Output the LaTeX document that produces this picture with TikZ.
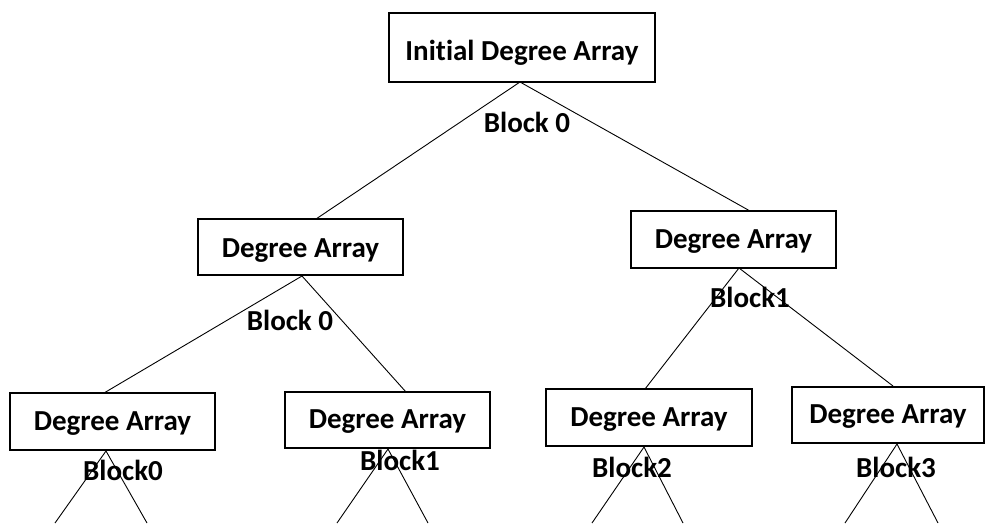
\documentclass[tikz,border=0pt]{standalone}
\usepackage{fontspec}
\setmainfont[Ligatures=CommonOff]{Carlito}
\begin{document}
\begin{tikzpicture}[x=1pt,y=-1pt,
  box/.style={draw, line width=1.3pt, inner sep=0pt, text height=17pt, text depth=0pt,
    font=\fontsize{29}{34}\selectfont\bfseries},
  lbl/.style={inner sep=0pt, anchor=base, font=\fontsize{29}{34}\selectfont\bfseries},
  edge/.style={draw, line width=0.9pt}]
\useasboundingbox (0,0) rectangle (987,523);

% boxes
\node[box, minimum width=266pt, minimum height=69pt, text height=25pt] (root) at (522,47.5) {Initial Degree Array};
\node[box, minimum width=205pt, minimum height=56pt, text height=20pt] (ml) at (300.5,247) {Degree Array};
\node[box, minimum width=205pt, minimum height=57pt] (mr) at (733.5,239.5) {Degree Array};
\node[box, minimum width=205pt, minimum height=57pt] (b1) at (112.5,421.5) {Degree Array};
\node[box, minimum width=205pt, minimum height=56pt] (b2) at (387.5,420) {Degree Array};
\node[box, minimum width=206pt, minimum height=57pt] (b3) at (649,417.5) {Degree Array};
\node[box, minimum width=192pt, minimum height=56pt] (b4) at (888,415) {Degree Array};

% split points and free ends of the branches
\coordinate (r0) at (520,82);
\coordinate (rl) at (316,219);
\coordinate (rr) at (750,211);
\coordinate (m0) at (302,276);
\coordinate (ml1) at (104,393);
\coordinate (ml2) at (406,392);
\coordinate (n0) at (739,268);
\coordinate (mr1) at (645,389);
\coordinate (mr2) at (893,386);
\coordinate (p1) at (106,451);
\coordinate (p1l) at (55,523);
\coordinate (p1r) at (147,523);
\coordinate (p2) at (388,449);
\coordinate (p2l) at (337,523);
\coordinate (p2r) at (428,523);
\coordinate (p3) at (644,447);
\coordinate (p3l) at (592,523);
\coordinate (p3r) at (683,523);
\coordinate (p4) at (897,444);
\coordinate (p4l) at (845,523);
\coordinate (p4r) at (938,523);

% branches
\path[edge] (rl) -- (r0) -- (rr);
\path[edge] (ml1) -- (m0) -- (ml2);
\path[edge] (mr1) -- (n0) -- (mr2);
\path[edge] (p1l) -- (p1) -- (p1r);
\path[edge] (p2l) -- (p2) -- (p2r);
\path[edge] (p3l) -- (p3) -- (p3r);
\path[edge] (p4l) -- (p4) -- (p4r);

% block labels
\node[lbl] (l0) at (527,132) {Block 0};
\node[lbl] (l1) at (290,330) {Block 0};
\node[lbl] (l2) at (750,307) {Block1};
\node[lbl] (l3) at (123,480) {Block0};
\node[lbl] (l4) at (400,470) {Block1};
\node[lbl] (l5) at (632,477) {Block2};
\node[lbl] (l6) at (896,477) {Block3};
\end{tikzpicture}
\end{document}
